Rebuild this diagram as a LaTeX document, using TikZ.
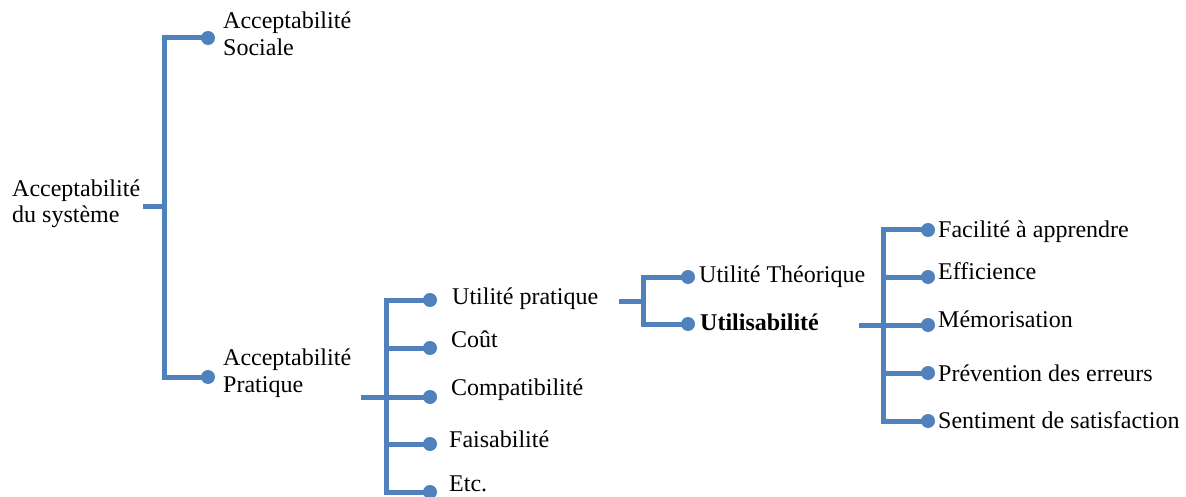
\documentclass[tikz,border=0pt]{standalone}
\usepackage{fontspec}
\setmainfont{Liberation Serif}
\definecolor{tblue}{RGB}{79,129,189}
\begin{document}
\begin{tikzpicture}[x=1pt,y=-1pt,
  conn/.style={draw=tblue,line width=5pt},
  dot/.style={circle,fill=tblue,inner sep=0pt,minimum size=14pt},
  lbl/.style={anchor=base west,inner sep=0pt,font=\fontsize{24}{27}\selectfont,align=left}]
\useasboundingbox (0,0) rectangle (1186,497);
% level 1
\coordinate (s1) at (143,207);
\coordinate (j1) at (164,207);
\node[dot] (d11) at (208,38) {};
\node[dot] (d12) at (208,377) {};
\draw[conn] (s1) -- (j1);
\draw[conn] (j1) |- (d11.center);
\draw[conn] (j1) |- (d12.center);
\node[lbl] (root) at (12,223) {Acceptabilité\\du système};
\node[lbl] (t11) at (223,56) {Acceptabilité\\Sociale};
\node[lbl] (t12) at (223,392) {Acceptabilité\\Pratique};
% level 2
\coordinate (s2) at (361,397);
\coordinate (j2) at (386,397);
\node[dot] (d21) at (430,300) {};
\node[dot] (d22) at (430,348) {};
\node[dot] (d23) at (430,397) {};
\node[dot] (d24) at (430,444) {};
\node[dot] (d25) at (430,492) {};
\draw[conn] (s2) -- (d23.center);
\foreach \d in {d21,d22,d24,d25}{\draw[conn] (j2) |- (\d.center);}
\node[lbl] (t21) at (452,304) {Utilité pratique};
\node[lbl] (t22) at (451,347) {Coût};
\node[lbl] (t23) at (451,395) {Compatibilité};
\node[lbl] (t24) at (449,447) {Faisabilité};
\node[lbl] (t25) at (449,491) {Etc.};
% level 3
\coordinate (s3) at (619,301);
\coordinate (j3) at (643,301);
\node[dot] (d31) at (688,277) {};
\node[dot] (d32) at (688,324) {};
\draw[conn] (s3) -- (j3);
\draw[conn] (j3) |- (d31.center);
\draw[conn] (j3) |- (d32.center);
\node[lbl] (t31) at (699,282) {Utilité Théorique};
\node[lbl] (t32) at (700,330) {\bfseries Utilisabilité};
% level 4
\coordinate (s4) at (859,325);
\coordinate (j4) at (883,325);
\node[dot] (d41) at (928,230) {};
\node[dot] (d42) at (928,277) {};
\node[dot] (d43) at (928,325) {};
\node[dot] (d44) at (928,373) {};
\node[dot] (d45) at (928,421) {};
\draw[conn] (s4) -- (d43.center);
\foreach \d in {d41,d42,d44,d45}{\draw[conn] (j4) |- (\d.center);}
\node[lbl] (t41) at (938,237) {Facilité à apprendre};
\node[lbl] (t42) at (938,279) {Efficience};
\node[lbl] (t43) at (938,327) {Mémorisation};
\node[lbl] (t44) at (938,381) {Prévention des erreurs};
\node[lbl] (t45) at (938,428) {Sentiment de satisfaction};
\end{tikzpicture}
\end{document}
